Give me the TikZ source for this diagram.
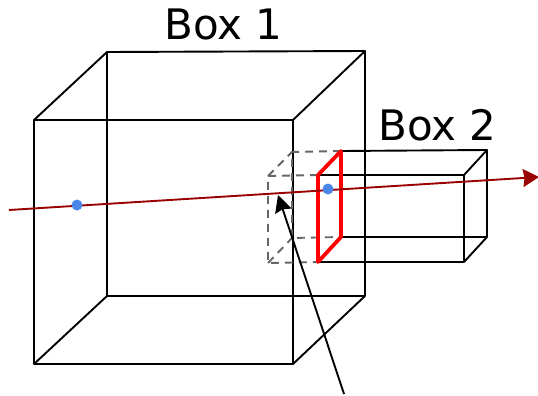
\documentclass[tikz,border=0pt]{standalone}
\usepackage{fontspec}
\setmainfont{DejaVu Sans}
\usetikzlibrary{arrows.meta}
\definecolor{raycolor}{HTML}{990000}
\definecolor{dotcolor}{HTML}{4A86E8}
\definecolor{hiddencolor}{HTML}{666666}
\begin{document}
\begin{tikzpicture}[
    x=1pt,
    y=-1pt,
    boxline/.style={
        black,
        line width=1.9pt,
        line join=round
    },
    hidden/.style={
        hiddencolor,
        line width=1.9pt,
        dash pattern=on 8pt off 6pt
    },
    overlap/.style={
        red,
        line width=3.8pt,
        line join=round
    },
    ray/.style={
        raycolor,
        line width=1.9pt,
        -{Stealth[length=16pt,width=18pt,inset=1.5pt]}
    },
    pointer/.style={
        black,
        line width=1.9pt,
        -{Stealth[length=17pt,width=17pt,inset=2pt]}
    },
    dot/.style={
        circle,
        fill=dotcolor,
        inner sep=0pt,
        minimum size=11pt
    },
    boxlabel/.style={
        font=\fontsize{42}{42}\selectfont,
        inner sep=0pt
    }
]

\useasboundingbox (0,0) rectangle (538,396);

% ==================================================
% Box 1
% ==================================================

\coordinate (a1) at (34,120);
\coordinate (a2) at (293,120);
\coordinate (a3) at (293,364);
\coordinate (a4) at (34,364);
\coordinate (b1) at (107,52);
\coordinate (b2) at (365,51);
\coordinate (b3) at (365,296);
\coordinate (b4) at (107,296);

\draw[boxline] (a1) -- (a2) -- (a3) -- (a4) -- cycle;
\draw[boxline] (b1) -- (b2) -- (b3) -- (b4) -- cycle;
\draw[boxline] (a1) -- (b1);
\draw[boxline] (a2) -- (b2);
\draw[boxline] (a3) -- (b3);
\draw[boxline] (a4) -- (b4);

\node[boxlabel] (label1) at (223.5,24) {Box 1};

% ==================================================
% Box 2
% ==================================================

\coordinate (c1) at (318,175);
\coordinate (c2) at (464,175);
\coordinate (c3) at (464,262);
\coordinate (c4) at (318,262);
\coordinate (d1) at (341,151);
\coordinate (d2) at (487,150);
\coordinate (d3) at (487,237);
\coordinate (d4) at (341,237);

\draw[boxline] (c1) -- (c2) -- (c3) -- (c4);
\draw[boxline] (d1) -- (d2) -- (d3) -- (d4);
\draw[boxline] (c2) -- (d2);
\draw[boxline] (c3) -- (d3);

\node[boxlabel] (label2) at (437.5,125) {Box 2};

% ==================================================
% Part of Box 2 inside Box 1
% ==================================================

\coordinate (e1) at (268,176);
\coordinate (e2) at (268,263);
\coordinate (f1) at (292,152);
\coordinate (f2) at (292,238);

\draw[hidden] (c1) -- (e1) -- (e2) -- (c4);
\draw[hidden] (d1) -- (f1) -- (f2) -- (d4);
\draw[hidden] (e1) -- (f1);
\draw[hidden] (e2) -- (f2);

% Overlap of both boxes
\draw[overlap] (c1) -- (d1) -- (d4) -- (c4) -- cycle;

% ==================================================
% Ray and pointer
% ==================================================

\coordinate (raystart) at (9,210);
\coordinate (rayend) at (539,177);
\coordinate (pointerstart) at (344,394);
\coordinate (pointerend) at (278,195);

\draw[ray] (raystart) -- (rayend);
\draw[pointer] (pointerstart) -- (pointerend);

\node[dot] (hit1) at (77,205) {};
\node[dot] (hit2) at (328,189) {};

\end{tikzpicture}
\end{document}
